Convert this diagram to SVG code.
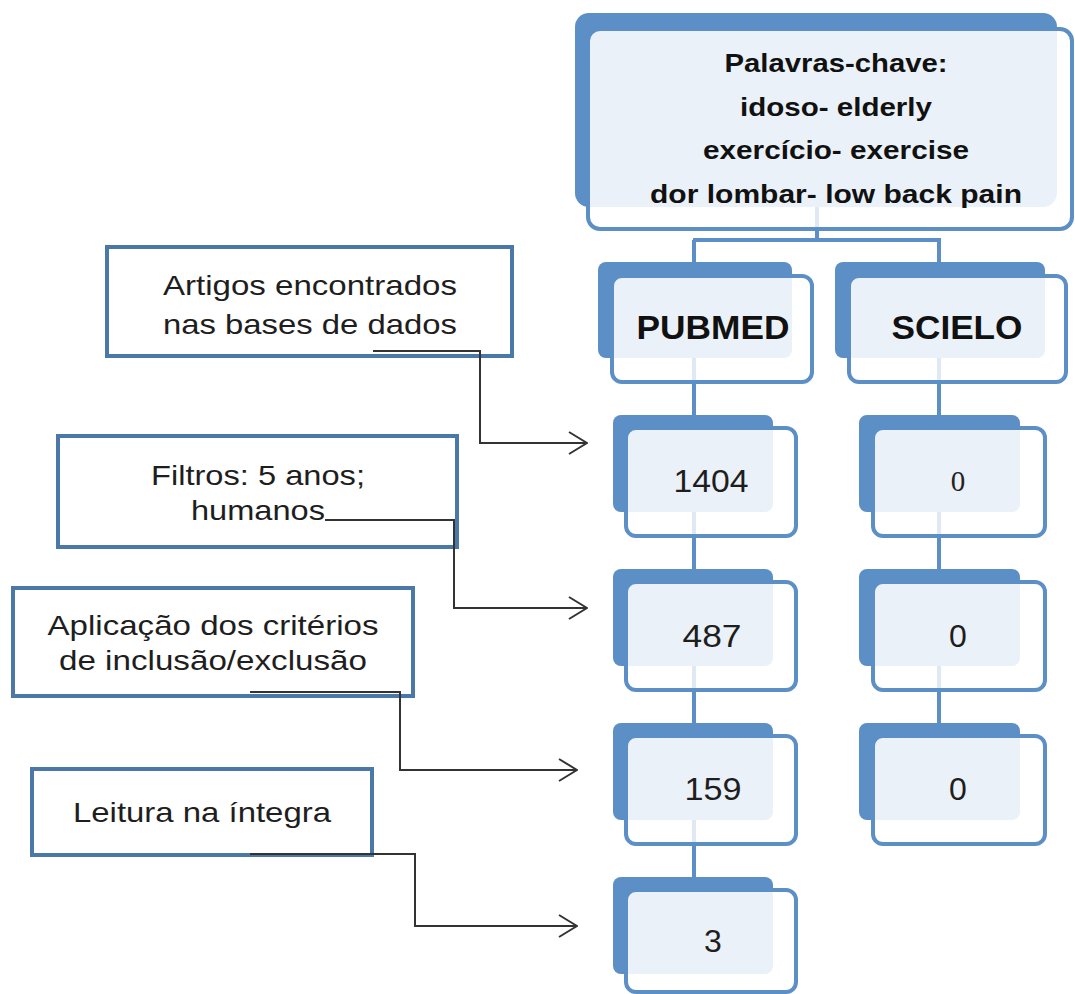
<svg xmlns="http://www.w3.org/2000/svg" width="1075" height="994" viewBox="0 0 1075 994">
<defs>
<style>
.back{fill:#5b8fc6;}
.front{fill:#ffffff;fill-opacity:0.88;stroke:#5b8fc6;stroke-width:4;}
.lbox{fill:none;stroke:#4a78a8;stroke-width:4;}
.bl{fill:none;stroke:#5b8fc6;stroke-width:4;}
.faint{fill:none;stroke:#5b8fc6;stroke-width:4;stroke-opacity:0.2;}
.ar{fill:none;stroke:#333;stroke-width:2;}
.t{font-family:"Liberation Sans",Arial,sans-serif;fill:#1e1e1e;text-anchor:middle;}
.b{font-weight:bold;fill:#111;}
.s{font-family:"Liberation Serif","Times New Roman",serif;fill:#222;text-anchor:middle;}
</style>
<marker id="arr" viewBox="0 0 20 24" markerWidth="20" markerHeight="24" refX="19" refY="12" orient="auto" markerUnits="userSpaceOnUse">
<path d="M1,1 L19,12 L1,23" fill="none" stroke="#333" stroke-width="2"/>
</marker>
</defs>
<rect width="1075" height="994" fill="#fff"/>

<g id="keywords">
<rect class="back" x="575" y="13" width="482" height="194" rx="14"/>
<rect class="front" x="588" y="29" width="484" height="200" rx="12"/>
<text class="t b" x="836" y="72" font-size="26" textLength="223" lengthAdjust="spacingAndGlyphs">Palavras-chave:</text>
<text class="t b" x="836" y="116" font-size="26" textLength="192" lengthAdjust="spacingAndGlyphs">idoso- elderly</text>
<text class="t b" x="836" y="159" font-size="26" textLength="266" lengthAdjust="spacingAndGlyphs">exercício- exercise</text>
<text class="t b" x="836" y="203" font-size="26" textLength="372" lengthAdjust="spacingAndGlyphs">dor lombar- low back pain</text>
</g>

<g id="pubmed">
<rect class="back" x="598" y="262" width="194" height="96" rx="8"/>
<rect class="front" x="612" y="276" width="200" height="106" rx="10"/>
<text class="t b" x="713" y="339" font-size="33" textLength="153" lengthAdjust="spacingAndGlyphs">PUBMED</text>
</g>

<g id="scielo">
<rect class="back" x="835" y="262" width="210" height="96" rx="8"/>
<rect class="front" x="849" y="276" width="217" height="106" rx="10"/>
<text class="t b" x="957" y="339" font-size="33" textLength="131" lengthAdjust="spacingAndGlyphs">SCIELO</text>
</g>

<g id="pubmed-1404">
<rect class="back" x="613" y="415" width="160" height="97" rx="8"/>
<rect class="front" x="626" y="428" width="170" height="108" rx="10"/>
<text class="t" x="711" y="492" font-size="32" textLength="75" lengthAdjust="spacingAndGlyphs">1404</text>
</g>

<g id="scielo-0a">
<rect class="back" x="859" y="415" width="161" height="97" rx="8"/>
<rect class="front" x="873" y="428" width="172" height="108" rx="10"/>
<text class="s" x="958" y="491" font-size="29">0</text>
</g>

<g id="pubmed-487">
<rect class="back" x="613" y="569" width="160" height="97" rx="8"/>
<rect class="front" x="626" y="582" width="170" height="108" rx="10"/>
<text class="t" x="712" y="647" font-size="32" textLength="59" lengthAdjust="spacingAndGlyphs">487</text>
</g>

<g id="scielo-0b">
<rect class="back" x="859" y="569" width="161" height="97" rx="8"/>
<rect class="front" x="873" y="582" width="172" height="108" rx="10"/>
<text class="t" x="958" y="647" font-size="32">0</text>
</g>

<g id="pubmed-159">
<rect class="back" x="613" y="723" width="160" height="97" rx="8"/>
<rect class="front" x="626" y="736" width="170" height="108" rx="10"/>
<text class="t" x="713" y="800" font-size="32" textLength="57" lengthAdjust="spacingAndGlyphs">159</text>
</g>

<g id="scielo-0c">
<rect class="back" x="859" y="723" width="161" height="97" rx="8"/>
<rect class="front" x="873" y="736" width="172" height="108" rx="10"/>
<text class="t" x="958" y="800" font-size="32">0</text>
</g>

<g id="pubmed-3">
<rect class="back" x="613" y="877" width="160" height="97" rx="8"/>
<rect class="front" x="626" y="890" width="170" height="102" rx="10"/>
<text class="t" x="713" y="952" font-size="32">3</text>
</g>

<g id="label-artigos">
<rect class="lbox" x="107" y="247" width="405" height="109"/>
<text class="t" x="310" y="295" font-size="28" textLength="294" lengthAdjust="spacingAndGlyphs">Artigos encontrados</text>
<text class="t" x="310" y="334" font-size="28" textLength="294" lengthAdjust="spacingAndGlyphs">nas bases de dados</text>
</g>

<g id="label-filtros">
<rect class="lbox" x="58" y="436" width="399" height="111"/>
<text class="t" x="258" y="485" font-size="28" textLength="214" lengthAdjust="spacingAndGlyphs">Filtros: 5 anos;</text>
<text class="t" x="258" y="520" font-size="28" textLength="134" lengthAdjust="spacingAndGlyphs">humanos</text>
</g>

<g id="label-aplicacao">
<rect class="lbox" x="13" y="588" width="400" height="108"/>
<text class="t" x="213" y="635" font-size="28" textLength="331" lengthAdjust="spacingAndGlyphs">Aplicação dos critérios</text>
<text class="t" x="213" y="670" font-size="28" textLength="308" lengthAdjust="spacingAndGlyphs">de inclusão/exclusão</text>
</g>

<g id="label-leitura">
<rect class="lbox" x="32" y="769" width="340" height="86"/>
<text class="t" x="202" y="822" font-size="28" textLength="258" lengthAdjust="spacingAndGlyphs">Leitura na íntegra</text>
</g>

<g id="connectors">
<path class="faint" d="M817,207 V229"/>
<path class="bl" d="M817,229 V240 M693,240 H941 M694,240 V262 M939,240 V262"/>
<path class="faint" d="M694,358 V382 M939,358 V382 M694,512 V536 M939,512 V536 M694,666 V690 M939,666 V690 M694,820 V844"/>
<path class="bl" d="M694,382 V415 M939,382 V415 M694,536 V569 M939,536 V569 M694,690 V723 M939,690 V723 M694,844 V877"/>
<path class="ar" d="M373,351 H480 V443 H587" marker-end="url(#arr)"/>
<path class="ar" d="M325,520 H454 V608 H587" marker-end="url(#arr)"/>
<path class="ar" d="M250,692 H400 V770 H577" marker-end="url(#arr)"/>
<path class="ar" d="M250,854 H415 V926 H577" marker-end="url(#arr)"/>
</g>
</svg>
